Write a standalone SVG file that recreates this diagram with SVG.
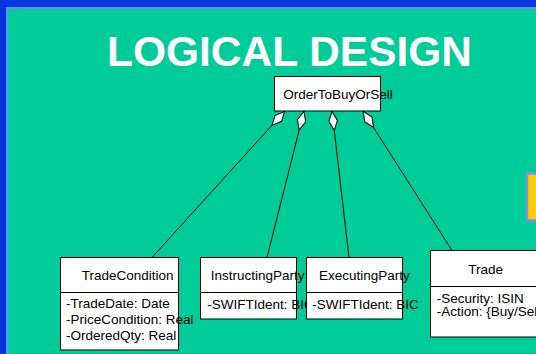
<svg xmlns="http://www.w3.org/2000/svg" width="536" height="354" viewBox="0 0 536 354">
<style>
.box{fill:#ffffff;stroke:#000000;stroke-width:1}
.t{font-family:"Liberation Sans",Arial,sans-serif;font-size:13.5px;fill:#000000}
.conn{stroke:#000000;stroke-width:1;fill:none;marker-start:url(#agg)}
</style>
<defs>
<marker id="agg" markerUnits="userSpaceOnUse" viewBox="0 0 20 10" markerWidth="20" markerHeight="10" refX="0" refY="5" orient="auto">
<path d="M0.5,5 L10,0.7 L19.5,5 L10,9.3 Z" fill="#ffffff" stroke="#000000" stroke-width="1"/>
</marker>
</defs>
<rect x="0" y="0" width="536" height="354" fill="#0535dd"/>
<rect x="7" y="8" width="535" height="352" fill="#00cc99" stroke="#6a8cf5" stroke-width="2"/>
<rect x="527" y="173.5" width="12" height="47" fill="#ffcc00" stroke="#7d8ff0" stroke-width="2.5"/>
<text x="107" y="66" font-family="'Liberation Sans',Arial,sans-serif" font-weight="bold" font-size="43" fill="#ffffff" textLength="365" lengthAdjust="spacingAndGlyphs">LOGICAL DESIGN</text>

<g id="OrderToBuyOrSell">
<rect class="box" x="274.5" y="76.5" width="106" height="34.5"/>
<text class="t" x="283.3" y="99">OrderToBuyOrSell</text>
</g>

<g id="TradeCondition">
<rect class="box" x="60.5" y="257.5" width="118" height="92.5"/>
<line x1="60.5" y1="292.5" x2="178.5" y2="292.5" stroke="#000" stroke-width="1"/>
<text class="t" x="81.7" y="279.5">TradeCondition</text>
<text class="t" x="66" y="308.3">-TradeDate: Date</text>
<text class="t" x="66" y="324">-PriceCondition: Real</text>
<text class="t" x="66" y="339.7">-OrderedQty: Real</text>
</g>

<g id="InstructingParty">
<rect class="box" x="200.5" y="257.5" width="96" height="61.5"/>
<line x1="200.5" y1="292.5" x2="296.5" y2="292.5" stroke="#000" stroke-width="1"/>
<text class="t" x="210.7" y="280">InstructingParty</text>
<text class="t" x="207.3" y="309.3">-SWIFTIdent: BIC</text>
</g>

<g id="ExecutingParty">
<rect class="box" x="306.5" y="257.5" width="96" height="61.5"/>
<line x1="306.5" y1="292.5" x2="402.5" y2="292.5" stroke="#000" stroke-width="1"/>
<text class="t" x="319" y="280">ExecutingParty</text>
<text class="t" x="312.3" y="309.3">-SWIFTIdent: BIC</text>
</g>

<g id="Trade">
<rect class="box" x="430.5" y="250.5" width="115" height="86.5"/>
<line x1="430.5" y1="286.5" x2="545.5" y2="286.5" stroke="#000" stroke-width="1"/>
<text class="t" x="468.3" y="274">Trade</text>
<text class="t" x="436.7" y="303.3">-Security: ISIN</text>
<text class="t" x="436.7" y="316">-Action: {Buy/Sell}</text>
</g>

<g id="connectors">
<line class="conn" x1="285" y1="111" x2="152" y2="257.5"/>
<line class="conn" x1="304" y1="111" x2="267" y2="257.5"/>
<line class="conn" x1="332" y1="111" x2="349" y2="257.5"/>
<line class="conn" x1="363" y1="111" x2="452" y2="250.5"/>
</g>
</svg>
